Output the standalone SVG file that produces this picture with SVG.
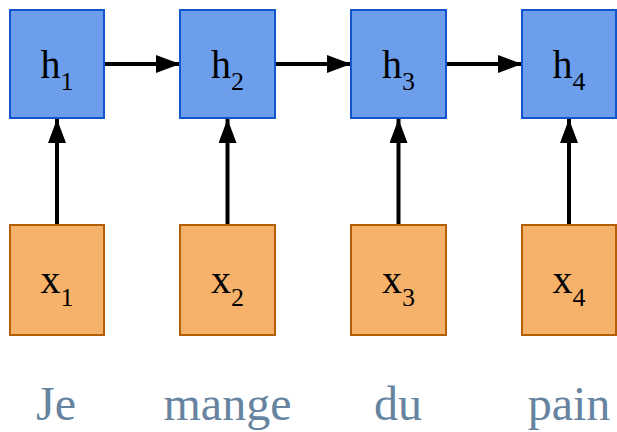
<svg xmlns="http://www.w3.org/2000/svg" width="617" height="432" viewBox="0 0 617 432">
  <style>
    .h { fill: #6d9eeb; stroke: #1155cc; stroke-width: 2; }
    .x { fill: #f6b26b; stroke: #b45f06; stroke-width: 2; }
    .lbl { font-family: "Liberation Serif", "DejaVu Serif", serif; font-size: 40px; fill: #000; text-anchor: middle; }
    .sub { font-size: 26px; }
    .word { font-family: "Liberation Serif", "DejaVu Serif", serif; font-size: 48px; fill: #66849f; text-anchor: middle; }
    .edge { stroke: #000; stroke-width: 4; fill: none; marker-end: url(#head); }
  </style>
  <defs>
    <marker id="head" markerUnits="userSpaceOnUse" markerWidth="24" markerHeight="18" refX="24" refY="9" orient="auto">
      <path d="M0,0 L24,9 L0,18 Z" fill="#000"/>
    </marker>
  </defs>
  <rect width="617" height="432" fill="#fff"/>

  <g id="connectors">
    <line class="edge" x1="104" y1="64" x2="180" y2="64"/>
    <line class="edge" x1="275" y1="64" x2="351" y2="64"/>
    <line class="edge" x1="446" y1="64" x2="522" y2="64"/>
    <line class="edge" x1="57" y1="225" x2="57" y2="119"/>
    <line class="edge" x1="227.5" y1="225" x2="227.5" y2="119"/>
    <line class="edge" x1="398.5" y1="225" x2="398.5" y2="119"/>
    <line class="edge" x1="569" y1="225" x2="569" y2="119"/>
  </g>

  <g id="h1"><rect class="h" x="10" y="10" width="94" height="108"/>
    <text class="lbl" x="57" y="78">h<tspan class="sub" dy="12">1</tspan></text></g>
  <g id="h2"><rect class="h" x="180" y="10" width="95" height="108"/>
    <text class="lbl" x="227.5" y="78">h<tspan class="sub" dy="12">2</tspan></text></g>
  <g id="h3"><rect class="h" x="351" y="10" width="95" height="108"/>
    <text class="lbl" x="398.5" y="78">h<tspan class="sub" dy="12">3</tspan></text></g>
  <g id="h4"><rect class="h" x="522" y="10" width="94" height="108"/>
    <text class="lbl" x="569" y="78">h<tspan class="sub" dy="12">4</tspan></text></g>

  <g id="x1"><rect class="x" x="10" y="225" width="94" height="110"/>
    <text class="lbl" x="57" y="293">x<tspan class="sub" dy="13">1</tspan></text></g>
  <g id="x2"><rect class="x" x="180" y="225" width="95" height="110"/>
    <text class="lbl" x="227.5" y="293">x<tspan class="sub" dy="13">2</tspan></text></g>
  <g id="x3"><rect class="x" x="351" y="225" width="95" height="110"/>
    <text class="lbl" x="398.5" y="293">x<tspan class="sub" dy="13">3</tspan></text></g>
  <g id="x4"><rect class="x" x="522" y="225" width="94" height="110"/>
    <text class="lbl" x="569" y="293">x<tspan class="sub" dy="13">4</tspan></text></g>

  <g id="words">
    <text class="word" x="56" y="420">Je</text>
    <text class="word" x="227.5" y="420">mange</text>
    <text class="word" x="398" y="420">du</text>
    <text class="word" x="569" y="420">pain</text>
  </g>
</svg>
